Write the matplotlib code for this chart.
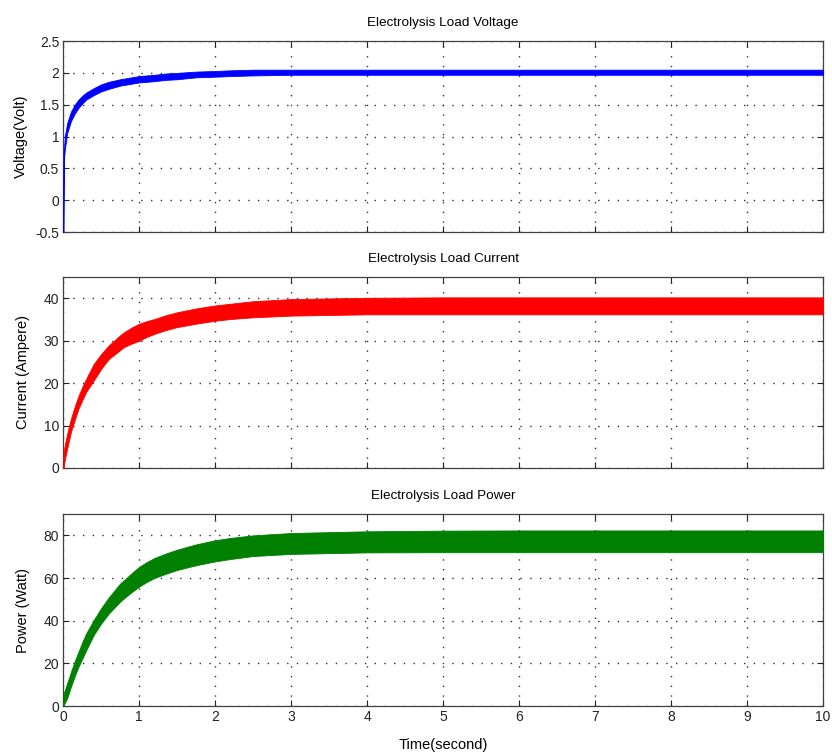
import matplotlib
matplotlib.use('Agg')
import matplotlib.pyplot as plt

plt.rcParams['font.family'] = ['Liberation Sans', 'DejaVu Sans']

t = [0.0, 0.005, 0.02, 0.05, 0.1, 0.15, 0.2, 0.25, 0.3, 0.4, 0.5, 0.6, 0.75, 0.8,
     0.9, 1.0, 1.1, 1.2, 1.35, 1.5, 1.75, 2.0, 2.2, 2.5, 3.0, 4.0, 5.0, 6.0, 7.0,
     8.0, 9.0, 10.0]

# voltage band (Volt)
volt_hi = [-0.5, 0.75, 1.0, 1.21, 1.39, 1.5, 1.58, 1.64, 1.69, 1.76, 1.82, 1.86, 1.9,
           1.91, 1.93, 1.95, 1.96, 1.97, 1.99, 2.0, 2.02, 2.03, 2.04, 2.05, 2.05, 2.05,
           2.05, 2.05, 2.05, 2.05, 2.05, 2.05]
volt_lo = [-0.5, 0.6, 0.8, 1.05, 1.24, 1.36, 1.45, 1.52, 1.58, 1.65, 1.71, 1.75, 1.8,
           1.81, 1.83, 1.85, 1.86, 1.87, 1.89, 1.9, 1.93, 1.94, 1.95, 1.96, 1.97, 1.97,
           1.97, 1.97, 1.97, 1.97, 1.97, 1.97]

# current band (Ampere)
curr_hi = [0.0, 3.8, 5.5, 8.0, 11.6, 14.5, 17.0, 19.1, 21.0, 24.5, 26.9, 28.9, 31.3,
           32.0, 33.1, 34.0, 34.6, 35.1, 36.0, 36.7, 37.6, 38.3, 38.7, 39.3, 39.8,
           40.1, 40.2, 40.2, 40.2, 40.2, 40.2, 40.2]
curr_lo = [0.0, 0.5, 2.0, 4.5, 8.5, 11.3, 14.0, 16.0, 17.9, 20.6, 23.4, 25.7, 27.8,
           28.5, 29.3, 30.0, 30.9, 31.6, 32.5, 33.2, 34.0, 34.7, 35.1, 35.5, 35.9,
           36.2, 36.2, 36.2, 36.2, 36.2, 36.2, 36.2]

# power band (Watt)
pow_hi = [0.0, 6.0, 7.5, 10.6, 16.0, 21.0, 25.5, 30.0, 34.0, 40.3, 46.0, 51.0, 57.5,
          59.0, 62.3, 65.3, 67.5, 69.4, 71.5, 73.3, 75.8, 77.7, 78.8, 80.0, 81.1,
          81.9, 82.2, 82.3, 82.3, 82.3, 82.3, 82.3]
pow_lo = [0.0, 0.5, 1.5, 3.6, 9.0, 14.0, 18.4, 22.2, 26.0, 33.3, 38.8, 43.4, 49.0,
          50.5, 53.4, 56.0, 58.2, 60.0, 62.0, 63.8, 66.0, 67.8, 68.9, 70.3, 71.3,
          72.0, 72.1, 72.1, 72.1, 72.1, 72.1, 72.1]

titles = ['Electrolysis Load Voltage', 'Electrolysis Load Current', 'Electrolysis Load Power']
ylabels = ['Voltage(Volt)', 'Current (Ampere)', 'Power (Watt)']
colors = ['#0000ff', '#ff0000', '#008000']
ylims = [(-0.5, 2.5), (0, 45), (0, 90)]
yticks = [[-0.5, 0, 0.5, 1, 1.5, 2, 2.5], [0, 10, 20, 30, 40], [0, 20, 40, 60, 80]]
ytick_labels = [['-0.5', '0', '0.5', '1', '1.5', '2', '2.5'],
                ['0', '10', '20', '30', '40'], ['0', '20', '40', '60', '80']]
xticks = list(range(0, 11))

fig = plt.figure(figsize=(8.32, 7.56), dpi=100)
rects = [[0.0761, 0.6931, 0.9130, 0.2526],
         [0.0761, 0.3810, 0.9130, 0.2526],
         [0.0761, 0.0661, 0.9130, 0.2540]]
bands = [(volt_lo, volt_hi), (curr_lo, curr_hi), (pow_lo, pow_hi)]
label_x = [-0.046, -0.044, -0.044]

for i in range(3):
    ax = fig.add_axes(rects[i])
    lo, hi = bands[i]
    ax.fill_between(t, lo, hi, color=colors[i], linewidth=0.6, edgecolor=colors[i], zorder=3)
    ax.set_xlim(0, 10)
    ax.set_ylim(*ylims[i])
    ax.set_xticks(xticks)
    ax.set_yticks(yticks[i])
    ax.set_yticklabels(ytick_labels[i])
    if i < 2:
        ax.set_xticklabels([])
    else:
        ax.set_xlabel('Time(second)', fontsize=10.5, labelpad=10)
    ax.set_title(titles[i], fontsize=9.7, pad=11)
    ax.set_ylabel(ylabels[i], fontsize=10.5)
    ax.yaxis.set_label_coords(label_x[i], 0.5)
    ax.tick_params(direction='in', top=True, right=True, length=4, width=0.8,
                   labelsize=10, colors='#222222', pad=3)
    ax.grid(True, color='#303030', linestyle=(0, (1, 6)), linewidth=1.0)
    for s in ax.spines.values():
        s.set_color('#404040')
        s.set_linewidth(0.9)

fig.savefig('out.png', dpi=100)
